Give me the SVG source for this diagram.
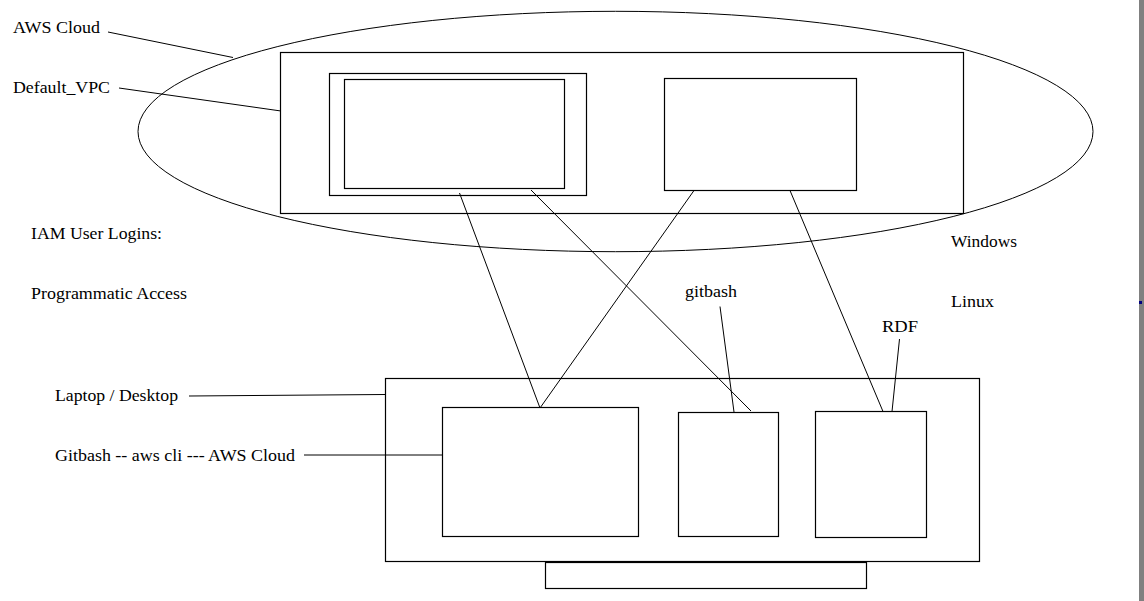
<svg xmlns="http://www.w3.org/2000/svg" width="1144" height="601" viewBox="0 0 1144 601">
<style>
.box{fill:none;stroke:#000;stroke-width:1.2}
.ln{stroke:#000;stroke-width:1;fill:none}
text{font-family:'Liberation Serif','DejaVu Serif',serif;font-size:17.5px;fill:#000}
</style>
<rect x="0" y="0" width="1144" height="601" fill="#fff"/>
<rect x="1139" y="0" width="5" height="601" fill="#808080"/>
<rect x="1139" y="301" width="3" height="3" fill="#000080"/>
<g id="aws-cloud">
<ellipse cx="615.5" cy="131.5" rx="477.5" ry="120.2" class="ln"/>
</g>
<g id="default-vpc">
<rect x="280.5" y="52.5" width="683" height="161" class="box"/>
</g>
<g id="subnet-outer">
<rect x="329.5" y="73.5" width="257" height="122" class="box"/>
</g>
<g id="subnet-inner">
<rect x="344.5" y="79.5" width="220" height="109" class="box"/>
</g>
<g id="windows-instance">
<rect x="664.5" y="78.5" width="192" height="112" class="box"/>
</g>
<g id="laptop">
<rect x="385.5" y="378.5" width="594" height="183" class="box"/>
</g>
<g id="stand">
<rect x="545.5" y="562.5" width="321" height="26" class="box"/>
</g>
<g id="cli-window">
<rect x="442.5" y="407.5" width="196" height="129" class="box"/>
</g>
<g id="gitbash-window">
<rect x="678.5" y="412.5" width="100" height="124" class="box"/>
</g>
<g id="rdf-window">
<rect x="815.5" y="411.5" width="111" height="126" class="box"/>
</g>
<g id="labels">
<text x="13" y="32.5" textLength="87" lengthAdjust="spacingAndGlyphs">AWS Cloud</text>
<text x="13" y="93" textLength="97" lengthAdjust="spacingAndGlyphs">Default_VPC</text>
<text x="31" y="239" textLength="131" lengthAdjust="spacingAndGlyphs">IAM User Logins:</text>
<text x="31" y="298.5" textLength="156" lengthAdjust="spacingAndGlyphs">Programmatic Access</text>
<text x="55" y="401" textLength="123" lengthAdjust="spacingAndGlyphs">Laptop / Desktop</text>
<text x="55" y="461" textLength="240" lengthAdjust="spacingAndGlyphs">Gitbash -- aws cli --- AWS Cloud</text>
<text x="951" y="246.5" textLength="66" lengthAdjust="spacingAndGlyphs">Windows</text>
<text x="951" y="306.5" textLength="43" lengthAdjust="spacingAndGlyphs">Linux</text>
<text x="685" y="296.5" textLength="52" lengthAdjust="spacingAndGlyphs">gitbash</text>
<text x="882" y="332" textLength="36" lengthAdjust="spacingAndGlyphs">RDF</text>
</g>
<g id="connectors">
<line class="ln" x1="108" y1="32" x2="233" y2="57.5"/>
<line class="ln" x1="119" y1="88" x2="281" y2="111"/>
<line class="ln" x1="189" y1="396" x2="385" y2="394.5"/>
<line class="ln" x1="304" y1="455" x2="442" y2="455"/>
<line class="ln" x1="459.5" y1="193" x2="540" y2="408"/>
<line class="ln" x1="694" y1="190.5" x2="540" y2="408"/>
<line class="ln" x1="531" y1="190" x2="751" y2="411"/>
<line class="ln" x1="790" y1="190.5" x2="883" y2="411.5"/>
<line class="ln" x1="720" y1="306.5" x2="734" y2="412"/>
<line class="ln" x1="899.5" y1="339" x2="892" y2="411.5"/>
</g>
</svg>
